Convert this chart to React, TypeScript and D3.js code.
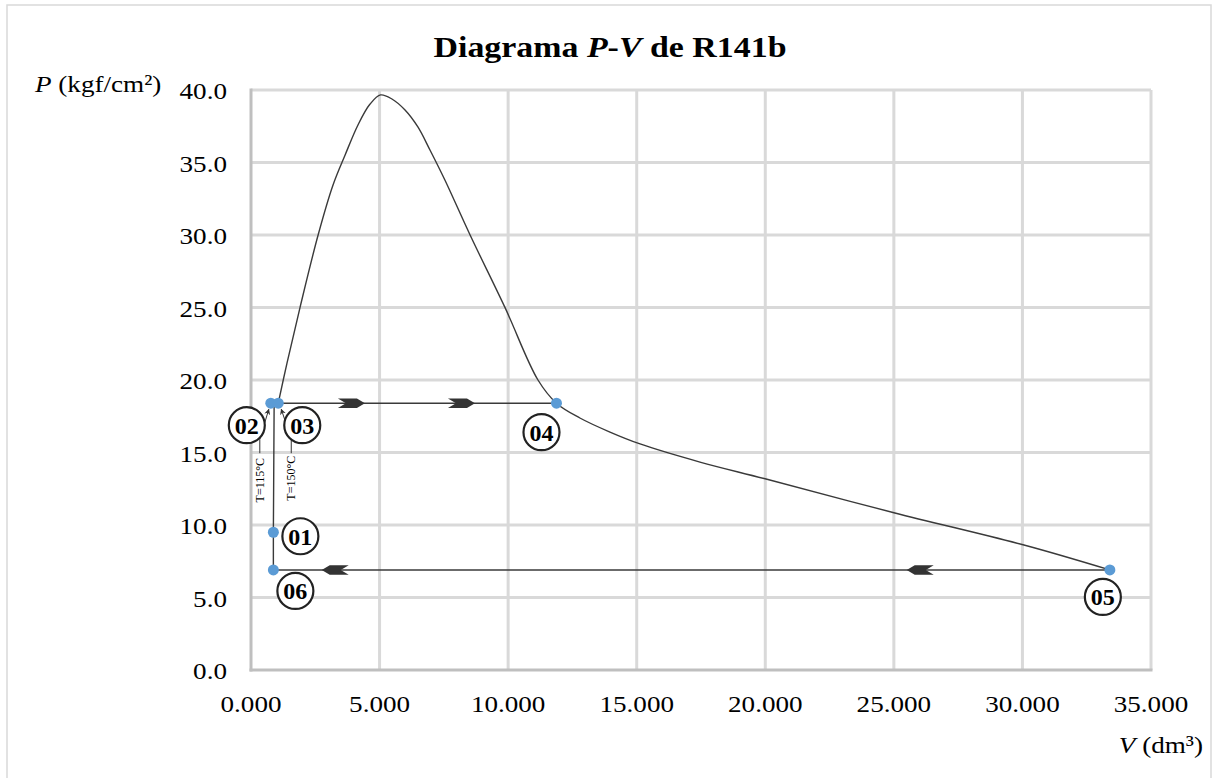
import React from "react";
import * as d3 from "d3";

// state points of the cycle
const pointLabels = ["01", "02", "03", "04", "05", "06"];
const pointV = [870, 770, 1060, 11880, 33400, 870];
const pointP = [9.5, 18.4, 18.4, 18.4, 6.9, 6.9];

// saturation / expansion curve (V in dm³, P in kgf/cm²)
const curveV = [1060, 1400, 1910, 2610, 3190, 3660, 4160, 4630, 5040, 5480, 5990, 6490, 6960, 7540, 8520, 9880, 11160, 11880, 12790, 13960, 15130, 17460, 20030, 25040, 30060, 33400];
const curveP = [18.4, 21.17, 25.03, 30.0, 33.45, 35.52, 37.59, 39.03, 39.66, 39.38, 38.62, 37.45, 35.86, 33.79, 30.0, 24.99, 20.0, 18.4, 17.38, 16.41, 15.59, 14.34, 13.17, 10.83, 8.62, 6.9];

// compression line 06 -> 01 -> 02/03
const riseV = [870, 870, 900];
const riseP = [6.9, 9.5, 18.4];

// direction arrows on the horizontal lines
const arrowTopV = [4430, 8710];
const arrowBottomV = [2750, 25500];

const xTicks = [0, 5000, 10000, 15000, 20000, 25000, 30000, 35000];
const yTicks = [0, 5, 10, 15, 20, 25, 30, 35, 40];

// pixel offsets of the circled labels from their point
const labelDx = [27, -24, 24, -15, -7, 22];
const labelDy = [4, 22, 22, 29, 27, 21];

const W = 1214;
const H = 778;
const SERIF = "'Liberation Serif', 'Times New Roman', serif";
const SX = 1.13;

const x = d3.scaleLinear().domain([0, 35000]).range([251, 1151]);
const y = d3.scaleLinear().domain([0, 40]).range([670, 90]);

const Txt = ({ px, py, anchor = "start", size = 24, weight = "normal", sx = SX, children }: any) => (
  <text
    transform={`translate(${px},${py}) scale(${sx},1)`}
    textAnchor={anchor}
    fontFamily={SERIF}
    fontSize={size}
    fontWeight={weight}
    fill="#000"
  >
    {children}
  </text>
);

// feathered arrow head, tip at origin pointing right
const arrowShape = "M0,0 L-8,-4.8 L-27,-4.8 L-19,0 L-27,4.8 L-8,4.8 Z";

export default function App() {
  const curveLine = d3
    .line<number>()
    .x((d, i) => x(curveV[i]))
    .y((d, i) => y(curveP[i]))
    .curve(d3.curveCatmullRom.alpha(0.5));

  const riseLine = d3
    .line<number>()
    .x((d, i) => x(riseV[i]))
    .y((d, i) => y(riseP[i]));

  const fmtX = (v: number) => (v / 1000).toFixed(3);
  const fmtY = d3.format(".1f");

  const p = (k: string) => pointLabels.indexOf(k);
  const yTop = y(pointP[p("02")]);

  return (
    <svg
      width={W}
      height={H}
      style={{ position: "absolute", left: 0, top: 0, background: "#fff" }}
    >
      <defs>
        <marker id="tip" viewBox="0 0 10 10" refX="9" refY="5" markerWidth="6" markerHeight="6" orient="auto">
          <path d="M0,0 L10,5 L0,10 L3,5 Z" fill="#333" />
        </marker>
      </defs>

      {/* outer frame */}
      <rect x={7} y={5} width={1204} height={800} fill="none" stroke="#d9d9d9" strokeWidth={1.5} />

      {/* grid */}
      {yTicks.filter((t) => t > 0).map((t) => (
        <line key={"gy" + t} x1={x(0)} x2={x(35000)} y1={y(t)} y2={y(t)} stroke="#d9d9d9" strokeWidth={3} />
      ))}
      {xTicks.filter((t) => t > 0).map((t) => (
        <line key={"gx" + t} x1={x(t)} x2={x(t)} y1={y(0)} y2={y(40)} stroke="#d9d9d9" strokeWidth={3} />
      ))}
      {/* axes */}
      <line x1={x(0)} x2={x(0)} y1={y(0) + 1.5} y2={y(40) - 1.5} stroke="#bfbfbf" strokeWidth={3} />
      <line x1={x(0) - 1.5} x2={x(35000) + 1.5} y1={y(0)} y2={y(0)} stroke="#bfbfbf" strokeWidth={3} />

      {/* tick labels */}
      {yTicks.map((t) => (
        <Txt key={"ty" + t} px={227} py={y(t) + 9} anchor="end">
          {fmtY(t)}
        </Txt>
      ))}
      {xTicks.map((t) => (
        <Txt key={"tx" + t} px={x(t)} py={712} anchor="middle">
          {fmtX(t)}
        </Txt>
      ))}

      {/* title and axis titles */}
      <Txt px={610} py={57} anchor="middle" size={30} weight="bold">
        Diagrama <tspan fontStyle="italic">P</tspan>-<tspan fontStyle="italic">V</tspan> de R141b
      </Txt>
      <Txt px={35} py={92} size={24}>
        <tspan fontStyle="italic">P</tspan> (kgf/cm²)
      </Txt>
      <Txt px={1203} py={753} anchor="end" size={24}>
        <tspan fontStyle="italic">V</tspan> (dm³)
      </Txt>

      {/* process lines */}
      <line x1={x(pointV[p("02")])} x2={x(pointV[p("04")])} y1={y(pointP[p("02")])} y2={y(pointP[p("04")])} stroke="#3a3a3a" strokeWidth={1.4} />
      <line x1={x(pointV[p("06")])} x2={x(pointV[p("05")])} y1={y(pointP[p("06")])} y2={y(pointP[p("05")])} stroke="#3a3a3a" strokeWidth={1.4} />
      <path d={riseLine(riseV) || ""} fill="none" stroke="#3a3a3a" strokeWidth={1.4} />
      <path d={curveLine(curveV) || ""} fill="none" stroke="#3a3a3a" strokeWidth={1.4} />

      {/* direction arrows */}
      {arrowTopV.map((v) => (
        <path key={"at" + v} d={arrowShape} transform={`translate(${x(v)},${y(pointP[p("04")])})`} fill="#333" />
      ))}
      {arrowBottomV.map((v) => (
        <path key={"ab" + v} d={arrowShape} transform={`translate(${x(v)},${y(pointP[p("05")])}) scale(-1,1)`} fill="#333" />
      ))}

      {/* temperature annotations */}
      <path d={`M${x(pointV[p("02")]) - 11},${yTop + 50} L${x(pointV[p("02")]) - 11},${yTop + 36} L${x(pointV[p("02")]) - 2},${yTop + 6}`} fill="none" stroke="#333" strokeWidth={1} markerEnd="url(#tip)" />
      <path d={`M${x(pointV[p("03")]) + 13},${yTop + 50} L${x(pointV[p("03")]) + 13},${yTop + 36} L${x(pointV[p("03")]) + 3},${yTop + 6}`} fill="none" stroke="#333" strokeWidth={1} markerEnd="url(#tip)" />
      <text transform={`translate(${x(pointV[p("02")]) - 7},${yTop + 77}) rotate(-90)`} textAnchor="middle" fontFamily={SERIF} fontSize={12} fill="#000">
        T=115°C
      </text>
      <text transform={`translate(${x(pointV[p("03")]) + 17},${yTop + 75}) rotate(-90)`} textAnchor="middle" fontFamily={SERIF} fontSize={12} fill="#000">
        T=150°C
      </text>

      {/* points */}
      {pointLabels.map((k, i) => (
        <circle key={"pt" + k} cx={x(pointV[i])} cy={y(pointP[i])} r={5.5} fill="#5b9bd5" />
      ))}

      {/* circled labels */}
      {pointLabels.map((k, i) => {
        const cx = x(pointV[i]) + labelDx[i];
        const cy = y(pointP[i]) + labelDy[i];
        return (
          <g key={"lb" + k}>
            <circle cx={cx} cy={cy} r={18} fill="#fff" stroke="#222" strokeWidth={2.2} />
            <Txt px={cx} py={cy + 8.5} anchor="middle" size={24} weight="bold" sx={1.0}>
              {k}
            </Txt>
          </g>
        );
      })}
    </svg>
  );
}
